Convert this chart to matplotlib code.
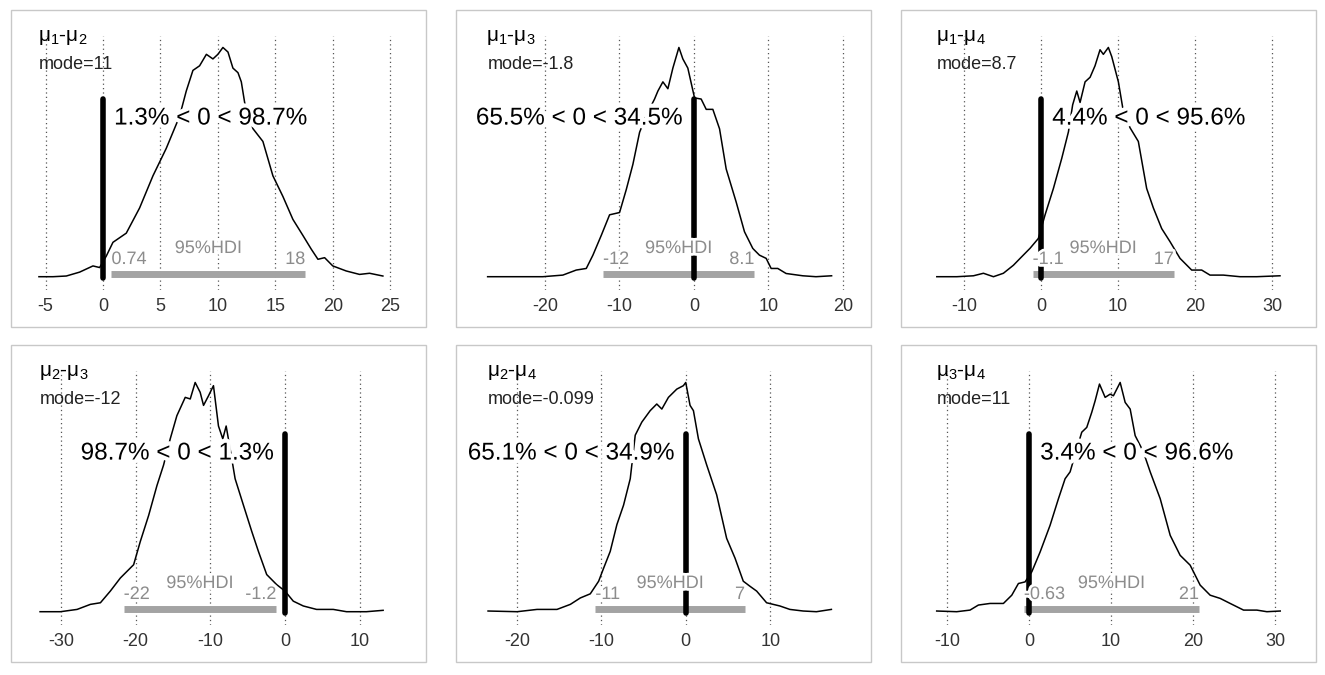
import numpy as np
import matplotlib
matplotlib.use("Agg")
import matplotlib.pyplot as plt
import matplotlib.patheffects as pe
from matplotlib.patches import Rectangle

plt.rcParams['font.family'] = ['Liberation Sans', 'DejaVu Sans']
plt.rcParams['mathtext.default'] = 'regular'
plt.rcParams['axes.unicode_minus'] = False

# pairs of group means that are compared
pairs = [(1, 2), (1, 3), (1, 4), (2, 3), (2, 4), (3, 4)]
modes = [11, -1.8, 8.7, -12, -0.099, 11]
pct_below = [1.3, 65.5, 4.4, 98.7, 65.1, 3.4]
hdi_low = [0.74, -12.2, -1.1, -21.6, -10.7, -0.63]
hdi_high = [17.6, 8.1, 17.2, -1.2, 7.0, 20.7]
tick_sets = [
    [-5, 0, 5, 10, 15, 20, 25],
    [-20, -10, 0, 10, 20],
    [-10, 0, 10, 20, 30],
    [-30, -20, -10, 0, 10],
    [-20, -10, 0, 10],
    [-10, 0, 10, 20, 30],
]
xlims = [(-6.61, 25.85), (-29.8, 20.3), (-16.1, 32.3),
         (-34.55, 15.4), (-25.3, 18.85), (-13.66, 31.8)]

# posterior densities (relative height)
x1 = [-5.57, -4.35, -3.19, -2.03, -0.87, -0.29, 0.29, 0.87, 2.03, 3.19, 4.35, 5.51, 6.67, 7.25,
      7.83, 8.41, 9.0, 9.57, 10.0, 10.44, 10.88, 11.31, 11.75, 12.04, 12.33, 13.05, 13.92, 14.79,
      15.66, 16.53, 17.4, 18.13, 18.71, 19.29, 20.0, 21.17, 22.33, 23.2, 24.36]
d1 = [0.0, 0.0, 0.003, 0.02, 0.047, 0.04, 0.09, 0.15, 0.19, 0.30, 0.44, 0.56, 0.70, 0.81,
      0.90, 0.92, 0.97, 0.95, 0.97, 1.0, 0.98, 0.91, 0.89, 0.85, 0.76, 0.646, 0.59, 0.44,
      0.35, 0.25, 0.18, 0.12, 0.076, 0.083, 0.047, 0.025, 0.01, 0.015, 0.003]
x2 = [-27.7, -23.8, -20.3, -17.6, -15.8, -14.45, -13.56, -12.44, -11.32, -9.98, -9.08, -8.19,
      -7.29, -6.3, -5.28, -4.83, -4.16, -3.49, -2.82, -2.01, -1.48, -0.81, 0.09, 0.98, 1.66, 2.55,
      3.45, 4.34, 5.68, 6.8, 7.92, 8.81, 9.71, 10.38, 11.27, 12.39, 14.63, 16.4, 18.5]
d2 = [0.0, 0.0, 0.0, 0.007, 0.029, 0.036, 0.094, 0.18, 0.27, 0.28, 0.38, 0.49,
      0.63, 0.71, 0.775, 0.81, 0.85, 0.82, 0.91, 1.0, 0.95, 0.91, 0.78, 0.775, 0.73, 0.73,
      0.645, 0.47, 0.326, 0.196, 0.123, 0.094, 0.08, 0.036, 0.036, 0.014, 0.004, 0.0, 0.004]
x3 = [-13.53, -10.94, -8.78, -7.48, -6.18, -4.89, -3.59, -2.72, -1.43, -0.35, 0.52, 1.6, 2.68,
      3.55, 4.1, 4.63, 5.06, 5.71, 6.36, 7.0, 7.65, 8.08, 8.73, 9.17, 10.03, 10.68, 11.54, 12.62,
      13.7, 14.57, 15.65, 16.73, 18.03, 19.54, 20.84, 21.92, 23.65, 25.81, 27.97, 31.0]
d3 = [0.0, 0.0, 0.004, 0.015, 0.0, 0.015, 0.05, 0.08, 0.124, 0.167, 0.27, 0.385, 0.516,
      0.632, 0.75, 0.81, 0.76, 0.85, 0.87, 0.92, 0.99, 0.97, 1.0, 0.96, 0.85, 0.72, 0.65, 0.59,
      0.385, 0.30, 0.21, 0.153, 0.08, 0.029, 0.029, 0.007, 0.007, 0.0, 0.0, 0.004]
x4 = [-32.8, -30.07, -27.84, -26.06, -24.72, -23.39, -22.05, -20.27, -19.38, -18.26, -17.15,
      -16.26, -15.37, -14.48, -13.36, -12.69, -12.03, -11.36, -10.91, -10.24, -9.58, -8.91, -8.33,
      -7.88, -7.35, -6.68, -5.57, -4.45, -3.56, -2.45, -1.11, 0.0, 1.11, 2.45, 4.23, 6.46, 8.24,
      10.9, 13.14]
d4 = [0.0, 0.0, 0.01, 0.032, 0.039, 0.09, 0.147, 0.205, 0.306, 0.42, 0.55,
      0.64, 0.754, 0.855, 0.935, 0.928, 1.0, 0.957, 0.90, 0.942, 0.986, 0.81, 0.754,
      0.81, 0.71, 0.58, 0.465, 0.35, 0.263, 0.162, 0.118, 0.09, 0.046, 0.025, 0.01, 0.01, 0.0,
      0.0, 0.006]
x5 = [-23.4, -19.96, -17.6, -15.24, -13.66, -12.48, -11.3, -10.31, -9.72, -8.94, -8.15, -7.36,
      -6.57, -5.98, -5.2, -4.21, -3.43, -2.83, -2.05, -1.06, -0.28, 0.0, 0.51, 0.91, 1.5, 2.48,
      3.66, 4.84, 5.83, 6.81, 7.6, 8.39, 9.57, 11.14, 12.32, 13.9, 15.47, 17.24]
d5 = [0.003, 0.0, 0.01, 0.01, 0.032, 0.06, 0.078, 0.133, 0.19, 0.263, 0.38, 0.465,
      0.58, 0.77, 0.827, 0.877, 0.906, 0.884, 0.935, 0.971, 0.986, 1.0, 0.90, 0.877, 0.754, 0.64,
      0.51, 0.32, 0.234, 0.133, 0.111, 0.09, 0.039, 0.025, 0.01, 0.003, 0.0, 0.01]
x6 = [-11.26, -8.82, -7.2, -6.18, -4.76, -3.13, -2.11, -1.3, -0.49, 0.33, 1.34, 2.56, 3.58,
      4.39, 5.0, 5.81, 6.42, 7.03, 7.64, 8.05, 8.58, 9.27, 9.88, 10.28, 11.1, 11.71, 12.32, 12.93,
      13.9, 14.76, 15.98, 17.2, 18.41, 19.63, 20.85, 22.07, 23.29, 24.51, 26.14, 27.76, 28.98,
      30.61]
d6 = [0.003, 0.0, 0.007, 0.029, 0.036, 0.036, 0.072, 0.123, 0.13, 0.174, 0.26, 0.377, 0.493,
      0.58, 0.61, 0.71, 0.783, 0.804, 0.87, 0.92, 0.993, 0.935, 0.949, 0.942, 1.0, 0.913, 0.884,
      0.768, 0.70, 0.61, 0.493, 0.333, 0.246, 0.203, 0.116, 0.072, 0.058, 0.036, 0.007, 0.007,
      0.0, 0.003]
xs = [x1, x2, x3, x4, x5, x6]
dens = [d1, d2, d3, d4, d5, d6]

W, H = 1325, 675
fig = plt.figure(figsize=(W / 100, H / 100), dpi=100)

panel_left = [11, 456, 901]
panel_top = [10, 345]
panel_w, panel_h = 415, 317

halo = [pe.withStroke(linewidth=6, foreground='white')]
small_halo = [pe.withStroke(linewidth=4, foreground='white')]
grey_txt = '#8c8c8c'

for i in range(6):
    row, col = divmod(i, 3)
    pl, pt = panel_left[col], panel_top[row]
    # panel frame
    fig.patches.append(Rectangle((pl / W, 1 - (pt + panel_h) / H), panel_w / W, panel_h / H,
                                 transform=fig.transFigure, fill=False,
                                 edgecolor='#c8c8c8', lw=1))
    ax = fig.add_axes([(pl + 16) / W, 1 - (pt + 26 + 254) / H, 373 / W, 254 / H])
    x = np.array(xs[i])
    d = np.array(dens[i])

    ax.plot(x, d, color='black', lw=1.1, zorder=3)
    ax.plot([hdi_low[i], hdi_high[i]], [0.01, 0.01], color='#a3a3a3', lw=5,
            solid_capstyle='butt', zorder=4)
    ax.plot([0, 0], [-0.005, 0.776], color='black', lw=4, solid_capstyle='round', zorder=5)

    a, b = pairs[i]
    ax.text(x.min() - 0.1 * (xlims[i][1] - xlims[i][0]) / 32, 1.045,
            r'$\mu_%d$-$\mu_%d$' % (a, b), fontsize=15, ha='left', va='center', zorder=6)
    ax.text(x.min(), 0.925, 'mode=%.2g' % modes[i], fontsize=13, ha='left', va='center',
            color='#222222', zorder=6)

    lo_pct = pct_below[i]
    comp_txt = '%.1f%% < 0 < %.1f%%' % (lo_pct, 100 - lo_pct)
    if lo_pct < 50:
        ax.annotate(comp_txt, (0, 0.69), xytext=(8, 0), textcoords='offset points',
                    ha='left', va='center', fontsize=17.5, path_effects=halo, zorder=7)
    else:
        ax.annotate(comp_txt, (0, 0.69), xytext=(-8, 0), textcoords='offset points',
                    ha='right', va='center', fontsize=17.5, path_effects=halo, zorder=7)

    ax.text((hdi_low[i] + hdi_high[i]) / 2, 0.123, '95%HDI', fontsize=13, ha='center',
            va='center', color=grey_txt, path_effects=small_halo, zorder=6)
    ax.text(hdi_low[i], 0.075, '%.2g' % hdi_low[i], fontsize=13, ha='left', va='center',
            color=grey_txt, path_effects=small_halo, zorder=6)
    ax.text(hdi_high[i], 0.075, '%.2g' % hdi_high[i], fontsize=13, ha='right', va='center',
            color=grey_txt, path_effects=small_halo, zorder=6)

    ax.set_xlim(*xlims[i])
    ax.set_ylim(-0.058, 1.05)
    ax.set_xticks(tick_sets[i])
    ax.set_yticks([])
    ax.grid(axis='x', linestyle=(0, (1, 2.5)), color='#555555', lw=0.9)
    ax.set_axisbelow(True)
    for s in ax.spines.values():
        s.set_visible(False)
    ax.tick_params(axis='x', length=0, labelsize=13, labelcolor='#333333', pad=5.5)
    ax.patch.set_alpha(0)

fig.savefig('out.png', dpi=100, facecolor='white')
